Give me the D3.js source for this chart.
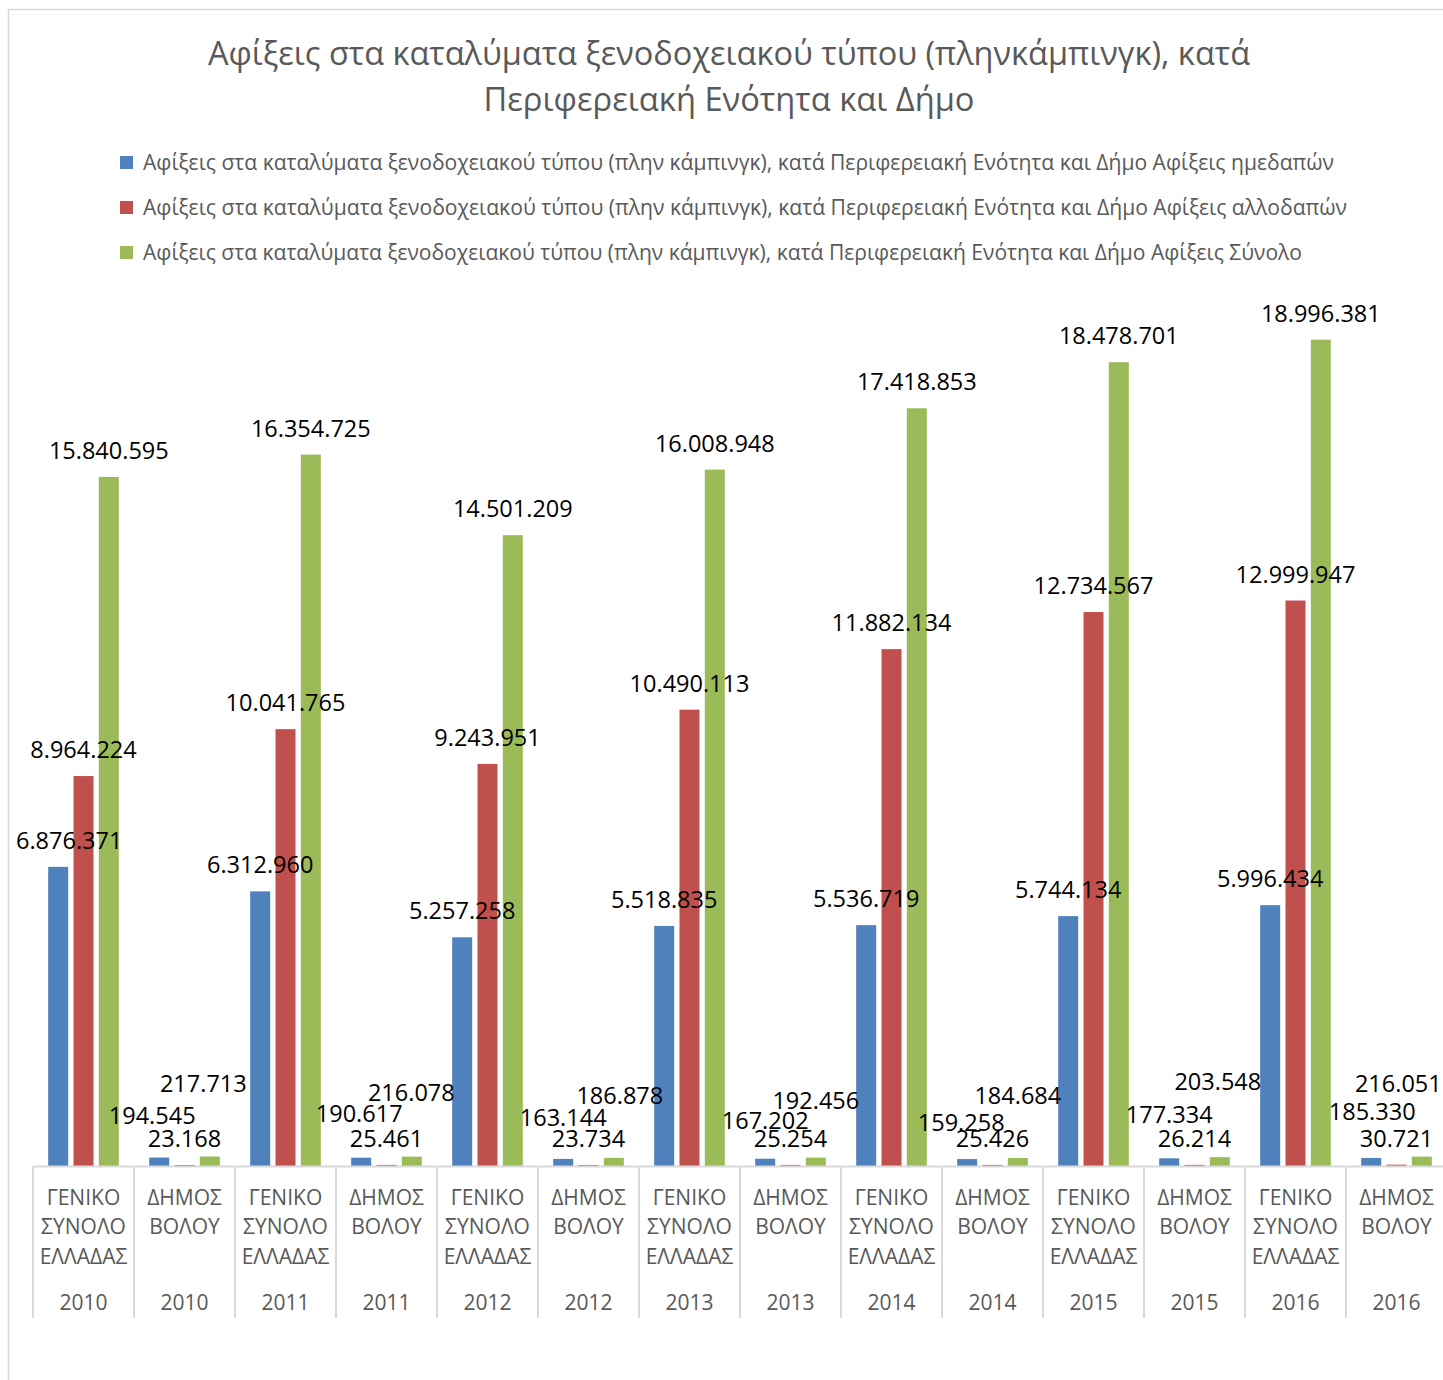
<!DOCTYPE html>
<html>
<head>
<meta charset="utf-8">
<script src="https://cdn.jsdelivr.net/npm/d3@7"></script>
<style>
	body { margin: 0; background: #fff; }
</style>
</head>
<body>
<div id="chart-container"></div>
<script>

// categories (inner level = area, outer level = year)
const categoryNames = [
	"ΓΕΝΙΚΟ ΣΥΝΟΛΟ ΕΛΛΑΔΑΣ", "ΔΗΜΟΣ ΒΟΛΟΥ",
	"ΓΕΝΙΚΟ ΣΥΝΟΛΟ ΕΛΛΑΔΑΣ", "ΔΗΜΟΣ ΒΟΛΟΥ",
	"ΓΕΝΙΚΟ ΣΥΝΟΛΟ ΕΛΛΑΔΑΣ", "ΔΗΜΟΣ ΒΟΛΟΥ",
	"ΓΕΝΙΚΟ ΣΥΝΟΛΟ ΕΛΛΑΔΑΣ", "ΔΗΜΟΣ ΒΟΛΟΥ",
	"ΓΕΝΙΚΟ ΣΥΝΟΛΟ ΕΛΛΑΔΑΣ", "ΔΗΜΟΣ ΒΟΛΟΥ",
	"ΓΕΝΙΚΟ ΣΥΝΟΛΟ ΕΛΛΑΔΑΣ", "ΔΗΜΟΣ ΒΟΛΟΥ",
	"ΓΕΝΙΚΟ ΣΥΝΟΛΟ ΕΛΛΑΔΑΣ", "ΔΗΜΟΣ ΒΟΛΟΥ"
];
const categoryYears = ["2010", "2010", "2011", "2011", "2012", "2012", "2013", "2013",
	"2014", "2014", "2015", "2015", "2016", "2016"];

// series values
const domestic = [6876371, 194545, 6312960, 190617, 5257258, 163144, 5518835, 167202,
	5536719, 159258, 5744134, 177334, 5996434, 185330];
const foreign = [8964224, 23168, 10041765, 25461, 9243951, 23734, 10490113, 25254,
	11882134, 25426, 12734567, 26214, 12999947, 30721];
const total = [15840595, 217713, 16354725, 216078, 14501209, 186878, 16008948, 192456,
	17418853, 184684, 18478701, 203548, 18996381, 216051];

const seriesNames = [
	"Αφίξεις στα καταλύματα ξενοδοχειακού τύπου (πλην κάμπινγκ), κατά Περιφερειακή Ενότητα και Δήμο Αφίξεις ημεδαπών",
	"Αφίξεις στα καταλύματα ξενοδοχειακού τύπου (πλην κάμπινγκ), κατά Περιφερειακή Ενότητα και Δήμο Αφίξεις αλλοδαπών",
	"Αφίξεις στα καταλύματα ξενοδοχειακού τύπου (πλην κάμπινγκ), κατά Περιφερειακή Ενότητα και Δήμο Αφίξεις Σύνολο"
];
const titleLines = [
	"Αφίξεις στα καταλύματα ξενοδοχειακού τύπου (πληνκάμπινγκ), κατά",
	"Περιφερειακή Ενότητα και Δήμο"
];

// styling / layout
const seriesColors = ["#4f81bd", "#c0504d", "#9bbb59"];
const titleWidths = [1042, 491];
const legendWidths = [1191, 1204, 1159];

// data labels that were dragged by hand in the original sheet: [dx, dy] in px
const labelNudges = [
	[[11, 0], [-7, -16], [0, 0], [-2, -18], [0, 0], [0, -15], [0, 0], [0, -12],
	 [0, 0], [-6, -10], [0, 0], [0, -17.5], [0, 0], [1, -20]],
	d3.range(14).map(() => [0, 0]),
	[[0, 0], [-6.5, -46.5], [0, 0], [-0.5, -38], [0, 0], [6, -36], [0, 0], [0, -30.5],
	 [0, 0], [0, -36], [0, 0], [-2, -49], [0, 0], [-23.5, -46.5]]
];

const greekFormat = d3.formatLocale({
	decimal: ",", thousands: ".", grouping: [3], currency: ["", "€"]
}).format(",d");

const fontFamily = "'Open Sans', 'Noto Sans', sans-serif";

var width = 1443,
	height = 1380,
	plotLeft = 33,
	plotRight = 1447,
	plotTop = 296,
	baseline = 1166,
	axisBottomEdge = 1318;

var svg = d3.select("#chart-container").append("svg")
	.attr("width", width)
	.attr("height", height)
	.style("font-family", fontFamily);

// chart area border
svg.append("rect")
	.attr("x", 8.5)
	.attr("y", 9.5)
	.attr("width", width + 20)
	.attr("height", height + 20)
	.attr("fill", "white")
	.attr("stroke", "#d9d9d9")
	.attr("stroke-width", 1.5);

// title
svg.append("g")
	.selectAll("text")
	.data(titleLines)
	.enter().append("text")
	.attr("x", 729)
	.attr("y", (d, i) => 65 + i * 46)
	.attr("text-anchor", "middle")
	.attr("font-size", 33)
	.attr("fill", "#595959")
	.attr("textLength", (d, i) => titleWidths[i])
	.attr("lengthAdjust", "spacingAndGlyphs")
	.text(d => d);

// legend
var legendItems = svg.append("g")
	.attr("class", "legend")
	.selectAll("g")
	.data(seriesNames)
	.enter().append("g")
	.attr("transform", (d, i) => "translate(120," + (156 + i * 45) + ")");

legendItems.append("rect")
	.attr("width", 13)
	.attr("height", 13)
	.attr("fill", (d, i) => seriesColors[i]);

legendItems.append("text")
	.attr("x", 23)
	.attr("y", 14)
	.attr("font-size", 21)
	.attr("fill", "#595959")
	.attr("textLength", (d, i) => legendWidths[i])
	.attr("lengthAdjust", "spacingAndGlyphs")
	.text(d => d);

// scales
var x = d3.scaleBand()
	.domain(d3.range(categoryNames.length))
	.range([plotLeft, plotRight]);

var xSeries = d3.scaleBand()
	.domain(d3.range(seriesNames.length))
	.range([0, x.bandwidth()])
	.paddingInner(0.21)
	.paddingOuter(0.6);

var y = d3.scaleLinear()
	.domain([0, 20000000])
	.range([baseline, plotTop]);

var seriesValues = [domestic, foreign, total];
var barData = seriesValues.map((values, s) => values.map((v, i) => ({ v: v, i: i, s: s })));

// bars
svg.append("g")
	.selectAll("g")
	.data(barData)
	.enter().append("g")
	.attr("fill", (d, s) => seriesColors[s])
	.selectAll("rect")
	.data(d => d)
	.enter().append("rect")
	.attr("x", d => x(d.i) + xSeries(d.s))
	.attr("width", xSeries.bandwidth())
	.attr("y", d => y(d.v))
	.attr("height", d => y(0) - y(d.v));

// axis line + category labels
var xAxis = d3.axisBottom(x)
	.tickSize(0)
	.tickSizeOuter(0)
	.tickFormat(i => categoryNames[i]);

var axisG = svg.append("g")
	.attr("transform", "translate(0," + baseline + ")")
	.call(xAxis)
	.attr("font-family", null)
	.attr("font-size", 21);

axisG.select(".domain")
	.attr("stroke", "#d9d9d9")
	.attr("stroke-width", 2);

axisG.selectAll(".tick text")
	.attr("fill", "#595959")
	.each(function(i) {
		var words = categoryNames[i].split(" ");
		var t = d3.select(this).text(null).attr("dy", null).attr("y", 0);
		words.forEach((w, k) => {
			t.append("tspan")
				.attr("x", 0)
				.attr("y", 39 + k * 29.3)
				.text(w);
		});
	});

// outer level: years
var yearAxis = d3.axisBottom(x)
	.tickSize(0)
	.tickSizeOuter(0)
	.tickFormat(i => categoryYears[i]);

var yearG = svg.append("g")
	.attr("transform", "translate(0," + baseline + ")")
	.call(yearAxis)
	.attr("font-family", null)
	.attr("font-size", 21);

yearG.select(".domain").remove();
yearG.selectAll(".tick text")
	.attr("fill", "#595959")
	.attr("dy", null)
	.attr("y", 144);

// category dividers
svg.append("g")
	.selectAll("line")
	.data(d3.range(categoryNames.length + 1))
	.enter().append("line")
	.attr("x1", i => i < categoryNames.length ? x(i) : plotRight)
	.attr("x2", i => i < categoryNames.length ? x(i) : plotRight)
	.attr("y1", baseline)
	.attr("y2", axisBottomEdge)
	.attr("stroke", "#d9d9d9")
	.attr("stroke-width", 2);

// data labels, drawn last so they sit over the bars
svg.append("g")
	.selectAll("g")
	.data(barData)
	.enter().append("g")
	.selectAll("text")
	.data(d => d)
	.enter().append("text")
	.attr("x", d => x(d.i) + xSeries(d.s) + xSeries.bandwidth() / 2 + labelNudges[d.s][d.i][0])
	.attr("y", d => y(d.v) - 18 + labelNudges[d.s][d.i][1])
	.attr("text-anchor", "middle")
	.attr("font-size", 23.5)
	.attr("fill", "#000")
	.text(d => greekFormat(d.v));

</script>
</body>
</html>
